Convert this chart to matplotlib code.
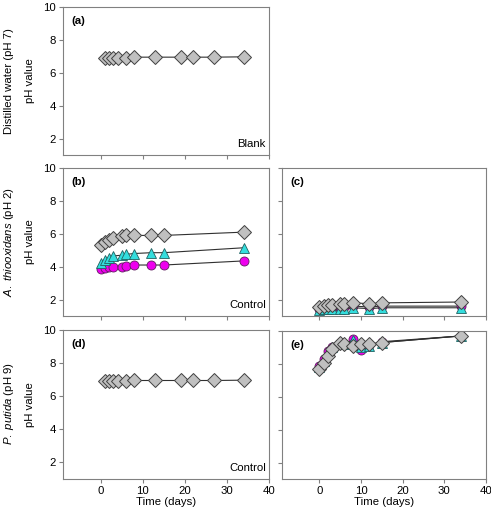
import matplotlib
matplotlib.use('Agg')
import matplotlib.pyplot as plt

plt.rcParams['font.family'] = ['Liberation Sans', 'DejaVu Sans']
plt.rcParams['mathtext.fontset'] = 'custom'
plt.rcParams['mathtext.it'] = 'Liberation Sans:italic'
plt.rcParams['mathtext.rm'] = 'Liberation Sans'

# time points
days_blank = [1, 2, 3, 4, 6, 8, 13, 19, 22, 27, 34]
days_b = [0, 1, 2, 3, 5, 6, 8, 12, 15, 34]
days_e = [0, 1, 2, 3, 5, 6, 8, 10, 12, 15, 34]

# (a) distilled water blank
ph_a = [6.9, 6.9, 6.9, 6.9, 6.9, 6.95, 6.95, 6.95, 6.95, 6.95, 6.97]

# (b) A. thiooxidans control
ph_b_grey = [5.3, 5.5, 5.65, 5.75, 5.85, 5.9, 5.9, 5.9, 5.9, 6.1]
ph_b_cyan = [4.2, 4.4, 4.55, 4.65, 4.7, 4.75, 4.8, 4.85, 4.85, 5.15]
ph_b_mag = [3.85, 3.9, 3.95, 4.0, 4.0, 4.05, 4.1, 4.1, 4.1, 4.35]

# (c)
ph_c_grey = [1.55, 1.6, 1.65, 1.65, 1.7, 1.7, 1.8, 1.75, 1.8, 1.85]
ph_c_mag = [1.45, 1.5, 1.5, 1.5, 1.5, 1.55, 1.6, 1.55, 1.6, 1.6]
ph_c_cyan = [1.35, 1.4, 1.4, 1.4, 1.45, 1.45, 1.5, 1.45, 1.5, 1.5]

# (d) P. putida control
ph_d = [6.9, 6.9, 6.9, 6.9, 6.9, 6.95, 6.95, 6.95, 6.95, 6.95, 6.97]

# (e)
ph_e_grey = [7.7, 8.05, 8.5, 8.9, 9.3, 9.2, 9.1, 9.2, 9.2, 9.3, 9.7]
ph_e_mag = [7.9, 8.3, 8.8, 9.05, 9.3, 9.2, 9.5, 8.85, 9.15, 9.35, 9.7]
ph_e_cyan = [7.8, 8.2, 8.7, 9.0, 9.3, 9.2, 9.45, 9.05, 9.1, 9.3, 9.7]

W, H = 491, 516
FS = 8.2
fig = plt.figure(figsize=(W/100, H/100), dpi=100)

def make_ax(l, r, t, b):
    ax = fig.add_axes([l/W, 1-b/H, (r-l)/W, (b-t)/H])
    ax.set_xlim(-9, 40)
    ax.set_ylim(1, 10)
    ax.set_xticks([0, 10, 20, 30, 40])
    ax.set_yticks([2, 4, 6, 8, 10])
    for s in ax.spines.values():
        s.set_color('#808080')
        s.set_linewidth(0.8)
    ax.tick_params(direction='out', length=3, width=0.8, color='#808080', labelsize=FS, pad=2)
    return ax

grey_kw = dict(marker='D', markersize=7, markerfacecolor='#c0c0c0', markeredgecolor='#404040', markeredgewidth=0.7, color='#303030', linewidth=0.8)
cyan_kw = dict(marker='^', markersize=7, markerfacecolor='#33dddd', markeredgecolor='#206060', markeredgewidth=0.6, color='#303030', linewidth=0.8)
mag_kw = dict(marker='o', markersize=6.5, markerfacecolor='#ee00ee', markeredgecolor='#602060', markeredgewidth=0.6, color='#303030', linewidth=0.8)

ax_a = make_ax(63, 269, 7, 155)
ax_b = make_ax(63, 269, 168, 316)
ax_c = make_ax(282, 486, 168, 316)
ax_d = make_ax(63, 269, 330, 479)
ax_e = make_ax(282, 486, 331, 479)

ax_a.plot(days_blank, ph_a, **grey_kw)

ax_b.plot(days_b, ph_b_mag, **mag_kw)
ax_b.plot(days_b, ph_b_cyan, **cyan_kw)
ax_b.plot(days_b, ph_b_grey, **grey_kw)

ax_c.plot(days_b, ph_c_mag, **mag_kw)
ax_c.plot(days_b, ph_c_cyan, **cyan_kw)
ax_c.plot(days_b, ph_c_grey, **grey_kw)

ax_d.plot(days_blank, ph_d, **grey_kw)

ax_e.plot(days_e, ph_e_mag, **mag_kw)
ax_e.plot(days_e, ph_e_cyan, **cyan_kw)
ax_e.plot(days_e, ph_e_grey, **grey_kw)

for ax in [ax_a, ax_b, ax_c]:
    ax.set_xticklabels([])
for ax in [ax_c, ax_e]:
    ax.set_yticklabels([])

for ax, lab in zip([ax_a, ax_b, ax_c, ax_d, ax_e], ['(a)', '(b)', '(c)', '(d)', '(e)']):
    ax.text(0.04, 0.94, lab, transform=ax.transAxes, fontsize=FS, fontweight='bold', va='top', ha='left')

ax_a.text(0.985, 0.04, 'Blank', transform=ax_a.transAxes, fontsize=FS, ha='right', va='bottom')
ax_b.text(0.985, 0.04, 'Control', transform=ax_b.transAxes, fontsize=FS, ha='right', va='bottom')
ax_d.text(0.985, 0.04, 'Control', transform=ax_d.transAxes, fontsize=FS, ha='right', va='bottom')

for ax in [ax_d, ax_e]:
    ax.set_xlabel('Time (days)', fontsize=FS, labelpad=1)

# y labels: pH value (inner) and treatment (outer)
for ax in [ax_a, ax_b, ax_d]:
    ax.set_ylabel('pH value', fontsize=FS, labelpad=6)
fig.text(9/W, 1-81/H, 'Distilled water (pH 7)', rotation=90, fontsize=FS, ha='center', va='center')
fig.text(9/W, 1-242/H, '$\\it{A.}$ $\\it{thiooxidans}$ (pH 2)', rotation=90, fontsize=FS, ha='center', va='center')
fig.text(9/W, 1-404/H, '$\\it{P.}$ $\\it{putida}$ (pH 9)', rotation=90, fontsize=FS, ha='center', va='center')

fig.savefig('out.png', dpi=100)
